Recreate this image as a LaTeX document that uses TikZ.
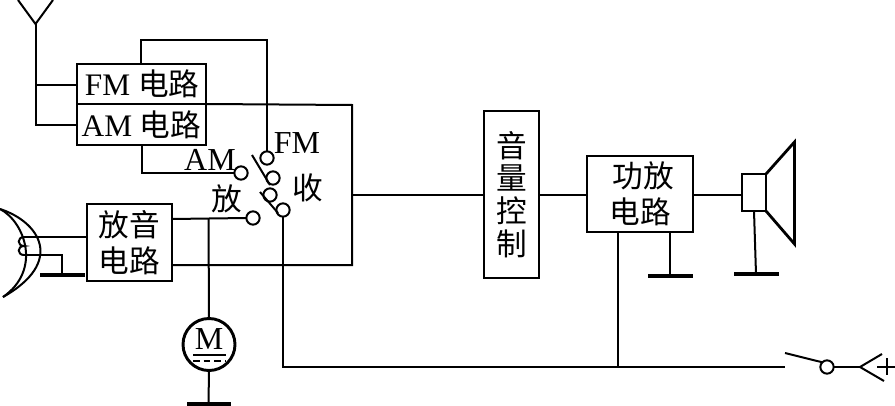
\documentclass[tikz,border=0pt]{standalone}
\usepackage{fontspec}
\setmainfont{Liberation Serif}
\newfontfamily\cjk{Noto Sans CJK SC}
\tikzset{
  wire/.style={line width=1.5pt},
  gnd/.style={line width=2.6pt},
  block/.style={draw,line width=2.1pt,inner sep=0pt,outer sep=0pt,align=center,
    font=\cjk\fontsize{23}{27}\selectfont},
  contact/.style={draw,circle,line width=1.5pt,fill=white,minimum size=10pt,inner sep=0pt,outer sep=0pt},
  lbl/.style={inner sep=0pt,font=\fontsize{24}{28}\selectfont},
  hanzi/.style={inner sep=0pt,font=\cjk\fontsize{23}{27}\selectfont}
}
\begin{document}
\begin{tikzpicture}[x=0.75pt,y=-0.75pt]
      \useasboundingbox (0,0) rectangle (895,406);
      % blocks
      \node[block,minimum width=96.75pt,minimum height=30pt] (fm) at (141.5,84) {\hspace*{1pt}\fontspec{Liberation Serif}\fontsize{23.5}{27}\selectfont FM \cjk\fontsize{23}{27}\selectfont 电路};
      \node[block,minimum width=96.75pt,minimum height=30.75pt] (am) at (141.5,124.5) {\fontspec{Liberation Serif}\fontsize{23.5}{27}\selectfont AM \cjk\fontsize{23}{27}\selectfont 电路};
      \node[block,line width=1.9pt,minimum width=63.75pt,minimum height=57.75pt] (play) at (129.5,242.5) {放音\\电路};
      \node[block,minimum width=41.25pt,minimum height=125.25pt,font=\cjk\fontsize{23}{24.6}\selectfont] (vol) at (511.5,194.5) {音\\量\\控\\制};
      \node[block,minimum width=79.5pt,minimum height=57pt] (amp) at (640,194) {\hspace*{5pt}功放\\电路};
      \node[block,minimum width=18pt,minimum height=27.75pt] (spk) at (754,192.5) {};
      \node[draw,circle,line width=2.2pt,minimum size=39pt,inner sep=0pt,outer sep=0pt] (motor) at (209,344.5) {};
      % contacts
      \node[contact] (cfm) at (267,158) {};
      \node[contact] (cam) at (241,173) {};
      \node[contact] (cplay) at (253,218) {};
      \node[contact] (crec) at (283,210) {};
      \node[contact] (cm1) at (273,178) {};
      \node[contact] (cm2) at (270,195) {};
      \node[contact] (cpow) at (827,367) {};
      % labels
      \node[lbl] (tfm) at (297,143) {FM};
      \node[lbl] (tam) at (210,160) {AM};
      \node[hanzi] (tplay) at (227,199) {放};
      \node[hanzi] (trec) at (308,188) {收};
      \node[lbl] (tm) at (209,339) {M};
      % junctions
      \coordinate (ant) at (35.5,24);
      \coordinate (antl) at (18,0);
      \coordinate (antr) at (53,0);
      \coordinate (antb) at (35.5,125);
      \coordinate (fmtop) at (141,40);
      \coordinate (ambot) at (142,173);
      \coordinate (rt) at (352,105);
      \coordinate (rb) at (352,265);
      \coordinate (rm) at (352,195);
      \coordinate (bus) at (283,367);
      \coordinate (sw) at (785,353);
      \coordinate (fork) at (860,367);
      \coordinate (forka) at (882,354);
      \coordinate (forkb) at (884,381);
      \coordinate (mjoin) at (208.5,219);
      % aerial
      \draw[wire] (antl) -- (ant) -- (antr);
      \draw[wire] (ant) -- (antb) -- (antb -| am.west);
      \draw[wire] (35.5,85) coordinate (antm) -- (antm -| fm.west);
      % switch wires
      \draw[wire] (fmtop |- fm.north) -- (fmtop) -- (fmtop -| cfm) -- (cfm.north);
      \draw[wire] (ambot |- am.south) -- (ambot) -- (cam.west);
      \draw[wire] (am.north east) -- (rt) -- (rb) -- (rb -| play.east);
      \draw[wire] (rm) -- (rm -| vol.west);
      \draw[wire] (play.east |- mjoin) -- (cplay.west);
      \draw[wire] (mjoin) -- (motor.north);
      \draw[wire] (crec.south) -- (bus) -- (sw |- bus);
      \draw[wire] (252,155) coordinate (leva) -- (270,185) coordinate (levb);
      \draw[wire] (260,192) coordinate (levc) -- (278,213) coordinate (levd);
      % motor
      \draw[wire] (193,355) coordinate (ma) -- (226,355) coordinate (mb);
      \draw[line width=0.9pt,dash pattern=on 5pt off 3pt] (193,361) coordinate (mc) -- (226,361) coordinate (md);
      \draw[wire] (motor.south) -- (208.5,404) coordinate (mg);
      \draw[gnd] (187,404) -- (231,404);
      % head
      \draw[wire] (0,209) coordinate (ha) .. controls (40,222) and (65,262) .. (3,297) coordinate (hb);
      \draw[wire] (ha) .. controls (25,222) and (42,270) .. (hb);
      \draw[wire] (24,237) coordinate (ca) .. controls (17,237) and (17,246) .. (24,246) .. controls (17,246) and (17,255) .. (24,255) coordinate (cb);
      \draw[wire] (ca) -- (ca -| play.west);
      \draw[wire] (cb) -- (62,255) coordinate (hg) -- (62,275) coordinate (hgb);
      \draw[gnd] (40,275) -- (85,275);
      % output stage
      \draw[wire] (vol.east |- rm) -- (amp.west |- rm);
      \draw[wire] (amp.east |- rm) -- (spk.west |- rm);
      \draw[wire] (618,232) coordinate (ampb) -- (ampb |- bus);
      \draw[wire] (670,232) coordinate (ampg) -- (670,276) coordinate (ampgb);
      \draw[gnd] (648,276) -- (693,276);
      \draw[wire] (spk.south) -- (756,274) coordinate (spkg);
      \draw[gnd] (734,274) -- (779,274);
      \draw[line width=2.1pt] (spk.north east) -- (794.5,142) coordinate (cona) -- (794.5,244) coordinate (conb) -- (spk.south east);
      % power
      \draw[wire] (sw) -- (cpow.north west);
      \draw[wire] (cpow.east) -- (fork);
      \draw[wire] (forka) -- (fork) -- (forkb);
      \draw[wire] (877,367) coordinate (pa) -- (895,367) coordinate (pb);
      \draw[wire] (887,358) coordinate (pc) -- (887,375) coordinate (pd);
    \end{tikzpicture}
\end{document}
